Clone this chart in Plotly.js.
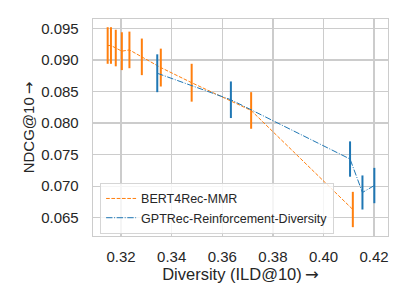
<!DOCTYPE html>
<html>
<head>
<meta charset="utf-8">
<script src="https://cdn.plot.ly/plotly-3.0.1.min.js"></script>
<style>html,body{margin:0;padding:0;background:#fff;}#chart{width:407px;height:305px;}</style>
</head>
<body>
<div id="chart"></div>
<script>
// BERT4Rec-MMR
const bertX   = [0.3147, 0.3160, 0.3179, 0.3203, 0.3233, 0.3282, 0.3357, 0.3479, 0.3714, 0.4116];
const bertY   = [0.0923, 0.0923, 0.0919, 0.0914, 0.0916, 0.0905, 0.0888, 0.0864, 0.0820, 0.0663];
const bertErr = [0.0029, 0.0029, 0.0029, 0.0030, 0.0029, 0.0029, 0.0030, 0.0030, 0.0029, 0.0028];
// GPTRec-Reinforcement-Diversity
const gptX   = [0.3343, 0.3634, 0.4105, 0.4154, 0.4201];
const gptY   = [0.0879, 0.0837, 0.0743, 0.0690, 0.0701];
const gptErr = [0.0030, 0.0029, 0.0028, 0.0027, 0.0028];
const names = ['BERT4Rec-MMR', 'GPTRec-Reinforcement-Diversity'];
const xTicks = [0.32, 0.34, 0.36, 0.38, 0.40, 0.42];
const yTicks = [0.065, 0.070, 0.075, 0.080, 0.085, 0.090, 0.095];

const font = 'Liberation Sans, Arial, sans-serif';
const arrow = '<span style="font-family:DejaVu Sans">→</span>';
const traces = [
  {x: bertX, y: bertY, name: names[0], type: 'scatter', mode: 'lines',
   line: {color: '#ff7f0e', width: 1, dash: '3.7px,1.6px'},
   error_y: {type: 'data', array: bertErr, visible: true, color: '#ff7f0e', thickness: 2, width: 0}},
  {x: gptX, y: gptY, name: names[1], type: 'scatter', mode: 'lines',
   line: {color: '#1f77b4', width: 1, dash: '6.4px,1.6px,1px,1.6px'},
   error_y: {type: 'data', array: gptErr, visible: true, color: '#1f77b4', thickness: 2, width: 0}}
];
const layout = {
  width: 407, height: 305,
  margin: {l: 93, r: 19, t: 19, b: 69},
  paper_bgcolor: '#fff', plot_bgcolor: '#fff',
  font: {family: font, size: 15, color: '#262626'},
  showlegend: true,
  legend: {x: 0.024, y: 0.01, xanchor: 'left', yanchor: 'bottom',
           bgcolor: 'rgba(255,255,255,0.8)', bordercolor: '#d5d5d5', borderwidth: 1,
           font: {family: font, size: 12.5, color: '#262626'}, tracegroupgap: 0},
  xaxis: {range: [0.3089, 0.4255], tickvals: xTicks, ticktext: xTicks.map(v => v.toFixed(2)),
          showgrid: true, gridcolor: '#cccccc', gridwidth: 1.3, zeroline: false,
          showline: true, mirror: true, linecolor: '#cccccc', linewidth: 1.3,
          ticks: '', ticklabelstandoff: 7, tickfont: {size: 15},
          title: {text: 'Diversity (ILD@10)\u2009' + arrow, standoff: 3, font: {family: font, size: 16.5}}},
  yaxis: {range: [0.0621, 0.0965], tickvals: yTicks, ticktext: yTicks.map(v => v.toFixed(3)),
          showgrid: true, gridcolor: '#cccccc', gridwidth: 1.3, zeroline: false,
          showline: true, mirror: true, linecolor: '#cccccc', linewidth: 1.3,
          ticks: '', ticklabelstandoff: 10, tickfont: {size: 15},
          title: {text: 'NDCG@10\u2009' + arrow, standoff: 3, font: {family: font, size: 15}}}
};
Plotly.newPlot('chart', traces, layout, {staticPlot: true, displayModeBar: false});
</script>
</body>
</html>
